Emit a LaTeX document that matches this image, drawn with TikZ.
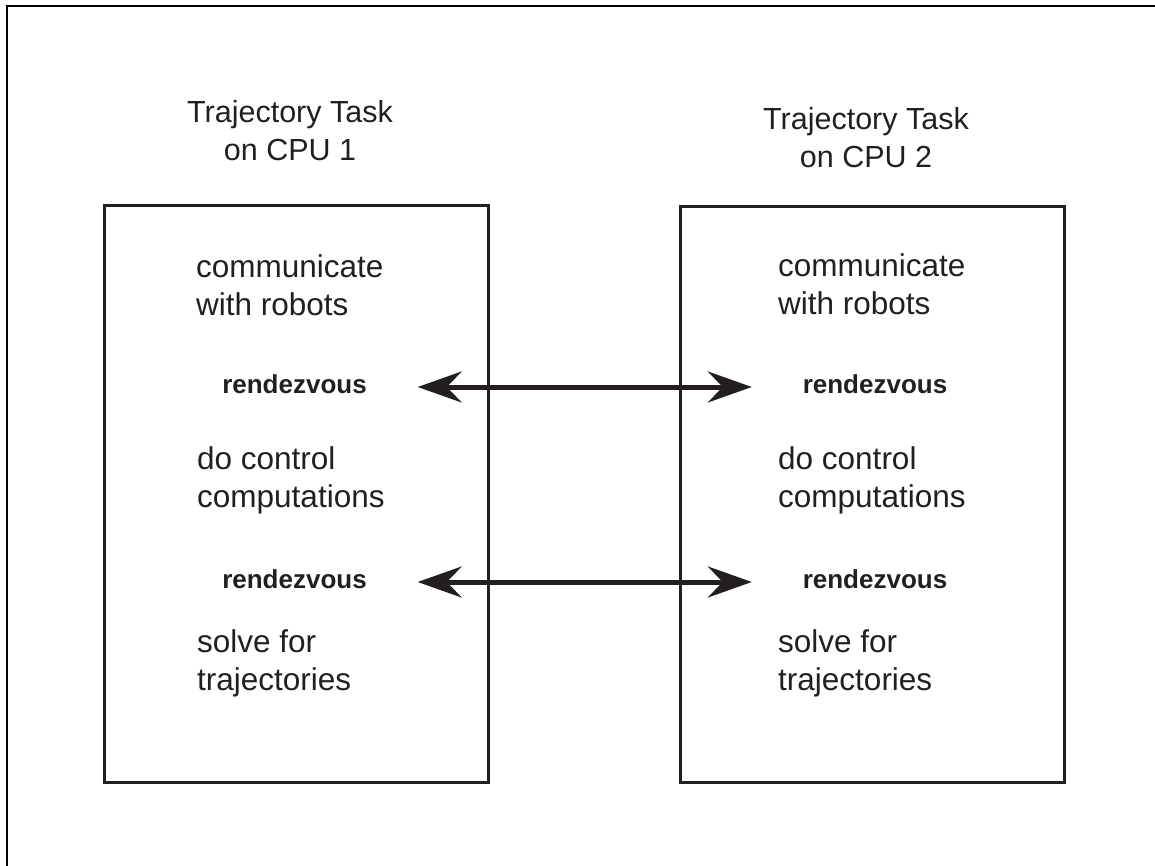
\documentclass[tikz,border=0pt]{standalone}
\usepackage{fontspec}
\setmainfont{Liberation Sans}
\usetikzlibrary{arrows.meta}
\definecolor{ink}{HTML}{231F20}
\tikzset{
  taskbox/.style={draw=ink, line width=3pt},
  % multi-line nodes: the base anchor sits on the last line
  tasktitle/.style={align=center, anchor=base, inner sep=0pt, text=ink,
    font=\fontsize{30.5}{38}\selectfont},
  stage/.style={align=left, anchor=base west, inner sep=0pt, text=ink,
    font=\fontsize{31.5}{38}\selectfont},
  meet/.style={anchor=base, inner sep=0pt, text height=12pt, text depth=0pt,
    minimum width=246pt, text=ink,
    font=\fontsize{26}{26}\selectfont\bfseries},
  sync/.style={draw=ink, line width=5pt,
    {Stealth[length=44pt,width=31pt,inset=15pt]}-{Stealth[length=44pt,width=31pt,inset=15pt]}},
}
\begin{document}
\begin{tikzpicture}[x=1pt, y=-1pt]
  \useasboundingbox (0,0) rectangle (1155,866);
  % page frame (top and left edges)
  \draw[line width=2pt] (7,866) -- (7,5.7) -- (1155,5.7);

  % the two task boxes
  \node[taskbox, minimum width=384pt, minimum height=576pt, inner sep=0pt] (cpu1) at (296,494) {};
  \node[taskbox, minimum width=384pt, minimum height=575pt, inner sep=0pt] (cpu2) at (872,494.5) {};

  % titles
  \node[tasktitle] (t1) at (290,161) {Trajectory Task\\on CPU 1};
  \node[tasktitle] (t2) at (866,168) {Trajectory Task\\on CPU 2};

  % task stages, CPU 1
  \node[stage] (comm1) at (196,315) {communicate\\with robots};
  \node[meet] (rz1a) at (294.5,393) {rendezvous};
  \node[stage] (ctrl1) at (197,507) {do control\\computations};
  \node[meet] (rz1b) at (294.5,588) {rendezvous};
  \node[stage] (solve1) at (197,690) {solve for\\trajectories};

  % task stages, CPU 2
  \node[stage] (comm2) at (778,314) {communicate\\with robots};
  \node[meet] (rz2a) at (875,393) {rendezvous};
  \node[stage] (ctrl2) at (778,507) {do control\\computations};
  \node[meet] (rz2b) at (875,588) {rendezvous};
  \node[stage] (solve2) at (778,690) {solve for\\trajectories};

  % synchronisation points
  \draw[sync] (rz1a) -- (rz2a);
  \draw[sync] (rz1b) -- (rz2b);
\end{tikzpicture}
\end{document}
